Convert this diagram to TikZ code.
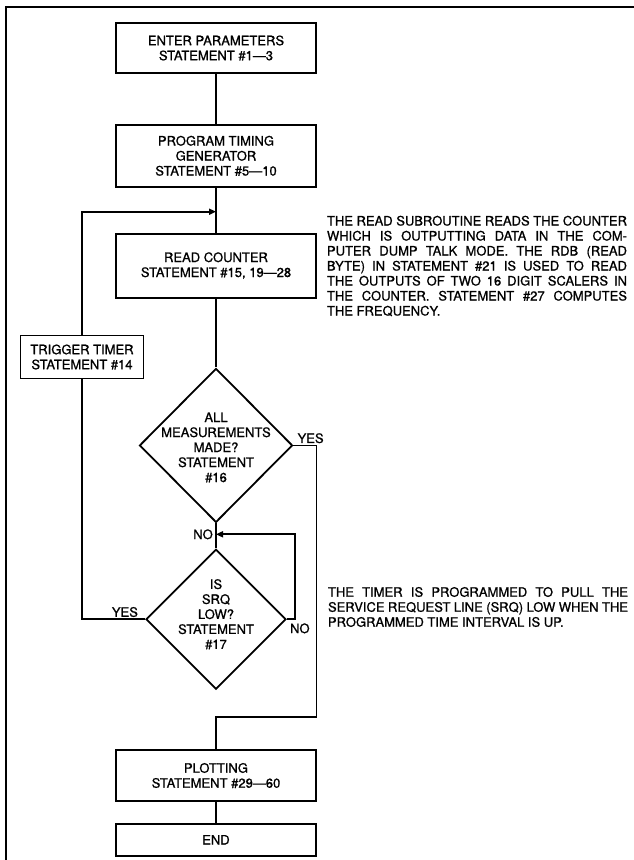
\documentclass[tikz,border=0pt]{standalone}
\usepackage{fontspec}
\setmainfont{TeX Gyre Heros}[RawFeature={embolden=0.9}]
\usetikzlibrary{arrows.meta,positioning,shapes.geometric,calc}
\tikzset{
  box/.style={draw, line width=1.8pt, align=center, minimum width=200pt,
              inner sep=2pt, font=\fontsize{13}{15}\selectfont},
  decision/.style={draw, diamond, line width=1.8pt, inner sep=0pt},
  dtext/.style={align=center, inner sep=0pt, font=\fontsize{13}{15}\selectfont},
  tag/.style={inner sep=1pt, font=\fontsize{13}{15}\selectfont},
  note/.style={text width=300pt, align=justify, inner sep=0pt,
               font=\fontsize{13}{15}\selectfont},
  link/.style={line width=1.8pt},
  flow/.style={line width=1.8pt, -{Triangle[length=7pt,width=6pt]}},
}

\begin{document}
\begin{tikzpicture}[x=1pt, y=-1pt]
  \useasboundingbox (0,0) rectangle (634,860);
  \clip (0,0) rectangle (634,860);
  \draw[line width=2.6pt] (6,7) rectangle (660,880);

  % main column
  \node[box, minimum height=50pt] (enter) at (216,48) {ENTER PARAMETERS\\STATEMENT \#1---3};
  \node[box, minimum height=62pt, below=50pt of enter] (timing) {PROGRAM TIMING\\GENERATOR\\STATEMENT \#5---10};
  \node[box, minimum height=64pt, below=45pt of timing] (read) {READ COUNTER\\STATEMENT \#15, 19---28};
  \node[decision, minimum width=153pt, minimum height=154pt, below=69pt of read,
        label={[dtext, yshift=-2pt]center:ALL\\MEASUREMENTS\\MADE?\\STATEMENT\\\#16}] (meas) {};
  \node[decision, minimum width=140pt, minimum height=140pt, below=25pt of meas,
        label={[dtext, yshift=5pt]center:IS\\SRQ\\LOW?\\STATEMENT\\\#17}] (srq) {};
  \node[box, minimum height=51pt, below=59pt of srq] (plot) {PLOTTING\\STATEMENT \#29---60};
  \node[box, minimum height=32pt, below=21pt of plot] (finish) {END};
  \node[box, minimum width=123pt, minimum height=43pt] (trig) at (82,357) {TRIGGER TIMER\\STATEMENT \#14};

  \coordinate (loopin) at ($(timing.south)+(0,24)$);
  \coordinate (noin) at ($(meas.south)+(0,11)$);
  \coordinate (yesin) at ($(plot.north)-(0,32)$);

  \draw[link] (enter) -- (timing);
  \draw[link] (timing) -- (read);
  \draw[link] (read) -- (meas);
  \draw[link] (meas) -- (srq);
  \draw[link] (plot) -- (finish);
  \draw[link] (srq.west) -| (trig.south);
  \draw[flow] (trig.north) |- (loopin);
  \draw[link] (meas.east) -- ++(23,0) |- (yesin) -- (plot);
  \draw[flow] (srq.east) -- ++(8,0) |- (noin);

  \node[tag, above right=1pt and 3pt of meas.east] (yes1) {YES};
  \node[tag, left=2pt of noin] (no1) {NO};
  \node[tag, above left=1pt and 6pt of srq.west] (yes2) {YES};
  \node[tag, below right=3pt and 2pt of srq.east] (no2) {NO};

  % remarks
  \node[note] (readnote) at (477,266) {THE READ SUBROUTINE READS THE COUNTER\linebreak
    WHICH IS OUTPUTTING DATA IN THE COM-\linebreak
    PUTER DUMP TALK MODE. THE RDB (READ\linebreak
    BYTE) IN STATEMENT \#21 IS USED TO READ\linebreak
    THE OUTPUTS OF TWO 16 DIGIT SCALERS IN\linebreak
    THE COUNTER. STATEMENT \#27 COMPUTES\linebreak
    THE FREQUENCY.};
  \node[note] (timernote) at (478,607) {THE TIMER IS PROGRAMMED TO PULL THE\linebreak
    SERVICE REQUEST LINE (SRQ) LOW WHEN THE\linebreak
    PROGRAMMED TIME INTERVAL IS UP.};
\end{tikzpicture}
\end{document}
